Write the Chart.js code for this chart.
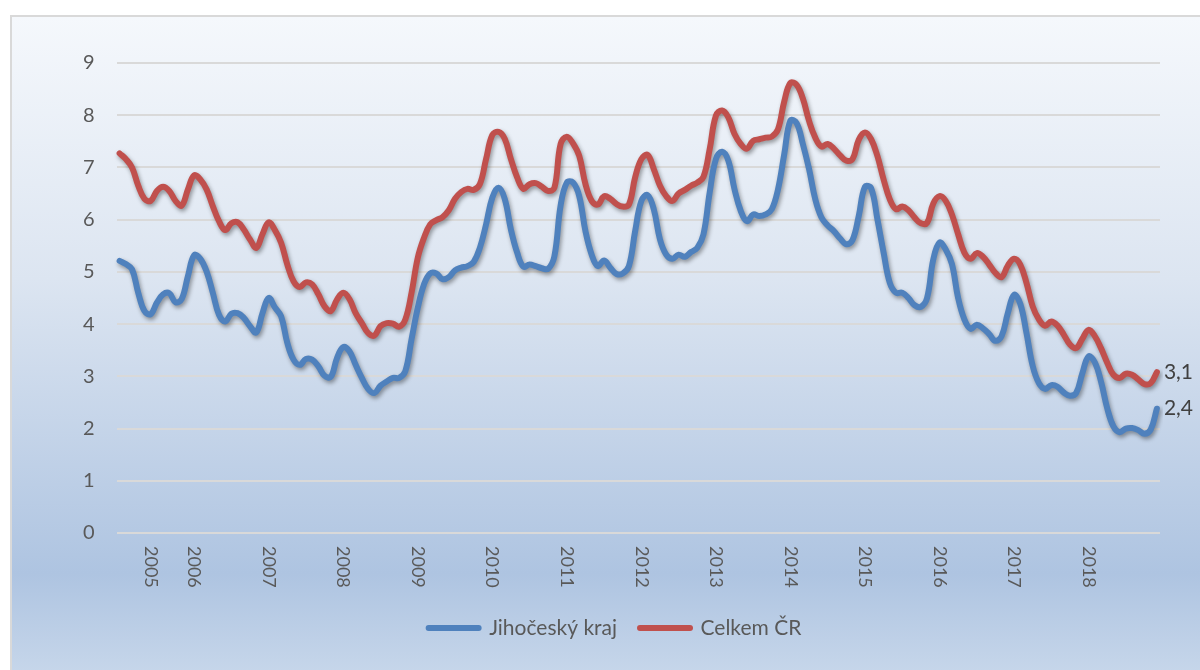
<!DOCTYPE html>
<html>
<head>
<meta charset="utf-8">
<title>Podíl nezaměstnaných</title>
<script src="https://cdn.jsdelivr.net/npm/chart.js@4"></script>
<style>
  html, body { margin: 0; padding: 0; background: #fff; overflow: hidden; }
  #wrap { position: relative; width: 1200px; height: 670px; }
  #bg {
    position: absolute; left: 10px; top: 15px; width: 1200px; height: 655px;
    border-left: 2px solid #d9d9d9; border-top: 2px solid #d9d9d9;
    background: linear-gradient(to bottom, #f5f8fc 0%, #dce5f1 40%, #aec4e1 85%, #c6d6ea 100%);
  }
  canvas { position: absolute; left: 0; top: 0; }
</style>
</head>
<body>
<div id="wrap">
  <div id="bg"></div>
  <canvas id="chart" width="1200" height="670"></canvas>
</div>
<script>
// monthly data, Jan 2005 .. Dec 2018
var tickYears = ['2005', '2006', '2007', '2008', '2009', '2010', '2011', '2012', '2013', '2014', '2015', '2016', '2017', '2018'];
var tickIndex = [5, 12, 24, 36, 48, 60, 72, 84, 96, 108, 120, 132, 144, 156];

var jihocesky = [
  5.21, 5.15, 5.05, 4.60, 4.25, 4.19, 4.41, 4.57, 4.59, 4.42, 4.48, 4.92,
  5.32, 5.25, 5.01, 4.60, 4.18, 4.05, 4.20, 4.21, 4.12, 3.96, 3.84, 4.21,
  4.50, 4.32, 4.15, 3.64, 3.32, 3.22, 3.33, 3.32, 3.19, 3.01, 2.99, 3.35,
  3.56, 3.48, 3.22, 2.97, 2.76, 2.68, 2.82, 2.90, 2.97, 2.97, 3.10, 3.71,
  4.31, 4.76, 4.97, 4.97, 4.86, 4.90, 5.03, 5.08, 5.11, 5.19, 5.46, 5.91,
  6.42, 6.61, 6.40, 5.81, 5.37, 5.10, 5.14, 5.11, 5.07, 5.06, 5.30, 6.27,
  6.71, 6.71, 6.45, 5.78, 5.33, 5.11, 5.22, 5.08, 4.96, 4.97, 5.11, 5.78,
  6.36, 6.47, 6.20, 5.62, 5.33, 5.25, 5.33, 5.29, 5.38, 5.46, 5.72, 6.52,
  7.16, 7.30, 7.13, 6.58, 6.17, 5.97, 6.10, 6.07, 6.10, 6.20, 6.58, 7.25,
  7.90, 7.85, 7.45, 6.97, 6.39, 6.04, 5.89, 5.78, 5.64, 5.53, 5.61, 6.07,
  6.63, 6.60, 6.01, 5.37, 4.79, 4.60, 4.60, 4.50, 4.36, 4.33, 4.50, 5.24,
  5.56, 5.43, 5.15, 4.50, 4.09, 3.91, 3.99, 3.92, 3.81, 3.68, 3.77, 4.21,
  4.56, 4.39, 3.83, 3.20, 2.87, 2.76, 2.83, 2.80, 2.69, 2.63, 2.68, 3.06,
  3.38, 3.27, 2.90, 2.39, 2.04, 1.93, 2.00, 2.01, 1.97, 1.90, 1.98, 2.38
];

var celkemCR = [
  7.27, 7.16, 7.00, 6.65, 6.40, 6.36, 6.55, 6.63, 6.55, 6.36, 6.27, 6.58,
  6.85, 6.77, 6.58, 6.26, 5.97, 5.80, 5.93, 5.95, 5.81, 5.62, 5.46, 5.72,
  5.95, 5.80, 5.56, 5.14, 4.82, 4.71, 4.80, 4.76, 4.57, 4.34, 4.25, 4.47,
  4.60, 4.48, 4.21, 4.02, 3.83, 3.78, 3.96, 4.02, 4.01, 3.95, 4.09, 4.60,
  5.27, 5.65, 5.91, 5.99, 6.05, 6.18, 6.40, 6.53, 6.59, 6.57, 6.68, 7.16,
  7.62, 7.68, 7.55, 7.16, 6.81, 6.59, 6.68, 6.70, 6.63, 6.55, 6.61, 7.45,
  7.59, 7.46, 7.22, 6.68, 6.36, 6.29, 6.45, 6.40, 6.30, 6.25, 6.29, 6.81,
  7.16, 7.24, 6.97, 6.65, 6.45, 6.36, 6.50, 6.57, 6.65, 6.71, 6.82, 7.35,
  7.99, 8.09, 7.96, 7.64, 7.45, 7.36, 7.51, 7.54, 7.57, 7.59, 7.73, 8.26,
  8.62, 8.58, 8.32, 7.89, 7.57, 7.40, 7.45, 7.36, 7.23, 7.13, 7.16, 7.53,
  7.67, 7.54, 7.22, 6.77, 6.39, 6.20, 6.25, 6.18, 6.04, 5.93, 5.94, 6.31,
  6.45, 6.36, 6.10, 5.72, 5.37, 5.25, 5.36, 5.29, 5.14, 4.98, 4.90, 5.12,
  5.25, 5.14, 4.79, 4.34, 4.09, 3.97, 4.05, 3.97, 3.80, 3.61, 3.54, 3.72,
  3.89, 3.77, 3.54, 3.26, 3.03, 2.97, 3.05, 3.03, 2.94, 2.85, 2.87, 3.08
];

var yTicks = [0, 1, 2, 3, 4, 5, 6, 7, 8, 9];

// category per month, year shown only where the reference shows it
var months = [];
for (var y = 2005; y <= 2018; y++) {
  for (var m = 1; m <= 12; m++) months.push(y + '-' + (m < 10 ? '0' : '') + m);
}
var axisLabels = months.map(function (_, i) {
  var k = tickIndex.indexOf(i);
  return k >= 0 ? tickYears[k] : '';
});

var FONT = 'Lato, "Open Sans", sans-serif';
var GREY = '#595959';

// soft drop shadow under the lines (Excel style)
var lineShadow = {
  id: 'lineShadow',
  beforeDatasetDraw: function (chart) {
    var c = chart.ctx;
    c.save();
    c.shadowColor = 'rgba(0,0,0,0.38)';
    c.shadowBlur = 4;
    c.shadowOffsetX = 1.5;
    c.shadowOffsetY = 2.5;
  },
  afterDatasetDraw: function (chart) { chart.ctx.restore(); }
};

// year labels rotated clockwise, reading top to bottom
var yearLabels = {
  id: 'yearLabels',
  afterDraw: function (chart) {
    var c = chart.ctx, xs = chart.scales.x;
    c.save();
    c.font = '18px ' + FONT;
    c.fillStyle = GREY;
    c.textAlign = 'left';
    c.textBaseline = 'middle';
    axisLabels.forEach(function (lab, i) {
      if (!lab) return;
      c.save();
      c.translate(xs.getPixelForValue(i), chart.chartArea.bottom + 13);
      c.rotate(Math.PI / 2);
      c.fillText(lab, 0, 0);
      c.restore();
    });
    c.restore();
  }
};

// value of the last month at the end of each line
var endLabels = {
  id: 'endLabels',
  afterDatasetsDraw: function (chart) {
    var c = chart.ctx;
    c.save();
    c.font = '21px ' + FONT;
    c.fillStyle = '#404040';
    c.textAlign = 'left';
    c.textBaseline = 'middle';
    chart.data.datasets.forEach(function (ds, i) {
      var pts = chart.getDatasetMeta(i).data;
      var last = pts[pts.length - 1];
      var v = ds.data[ds.data.length - 1];
      c.fillText(v.toFixed(1).replace('.', ','), last.x + 7, last.y);
    });
    c.restore();
  }
};

new Chart(document.getElementById('chart').getContext('2d'), {
  type: 'line',
  data: {
    labels: months,
    datasets: [
      { label: 'Jihočeský kraj', data: jihocesky, borderColor: '#4f81bd', backgroundColor: '#4f81bd', borderWidth: 6, tension: 0.4, pointRadius: 0, borderCapStyle: 'round', borderJoinStyle: 'round' },
      { label: 'Celkem ČR', data: celkemCR, borderColor: '#c0504d', backgroundColor: '#c0504d', borderWidth: 6, tension: 0.4, pointRadius: 0, borderCapStyle: 'round', borderJoinStyle: 'round' }
    ]
  },
  options: {
    responsive: false,
    animation: false,
    devicePixelRatio: 1,
    layout: { padding: { left: 30, right: 0, top: 63, bottom: 21.5 } },
    plugins: {
      tooltip: { enabled: false },
      legend: {
        position: 'bottom',
        labels: {
          font: { family: FONT, size: 21 },
          color: GREY,
          padding: 23,
          usePointStyle: true,
          pointStyleWidth: 50,
          generateLabels: function (chart) {
            return chart.data.datasets.map(function (ds, i) {
              return {
                text: ds.label, datasetIndex: i, pointStyle: 'line',
                strokeStyle: ds.borderColor, fillStyle: ds.borderColor,
                lineWidth: 6, lineCap: 'round', fontColor: GREY, hidden: false
              };
            });
          }
        }
      }
    },
    scales: {
      x: {
        type: 'category',
        offset: true,
        grid: { display: false },
        border: { display: false },
        ticks: { display: false },
        afterFit: function (s) { s.height = 61.5; }
      },
      y: {
        min: 0, max: 9,
        afterBuildTicks: function (s) { s.ticks = yTicks.map(function (v) { return { value: v }; }); },
        grid: { color: '#d9d9d9', lineWidth: 2, drawTicks: false },
        border: { display: false },
        ticks: { font: { family: FONT, size: 20 }, color: GREY, padding: 22 },
        afterFit: function (s) { s.width = 86.5; }
      },
      y2: {
        position: 'right',
        min: 0, max: 9,
        grid: { display: false },
        border: { display: false },
        ticks: { display: false },
        afterFit: function (s) { s.width = 40; }
      }
    }
  },
  plugins: [lineShadow, yearLabels, endLabels]
});
</script>
</body>
</html>
